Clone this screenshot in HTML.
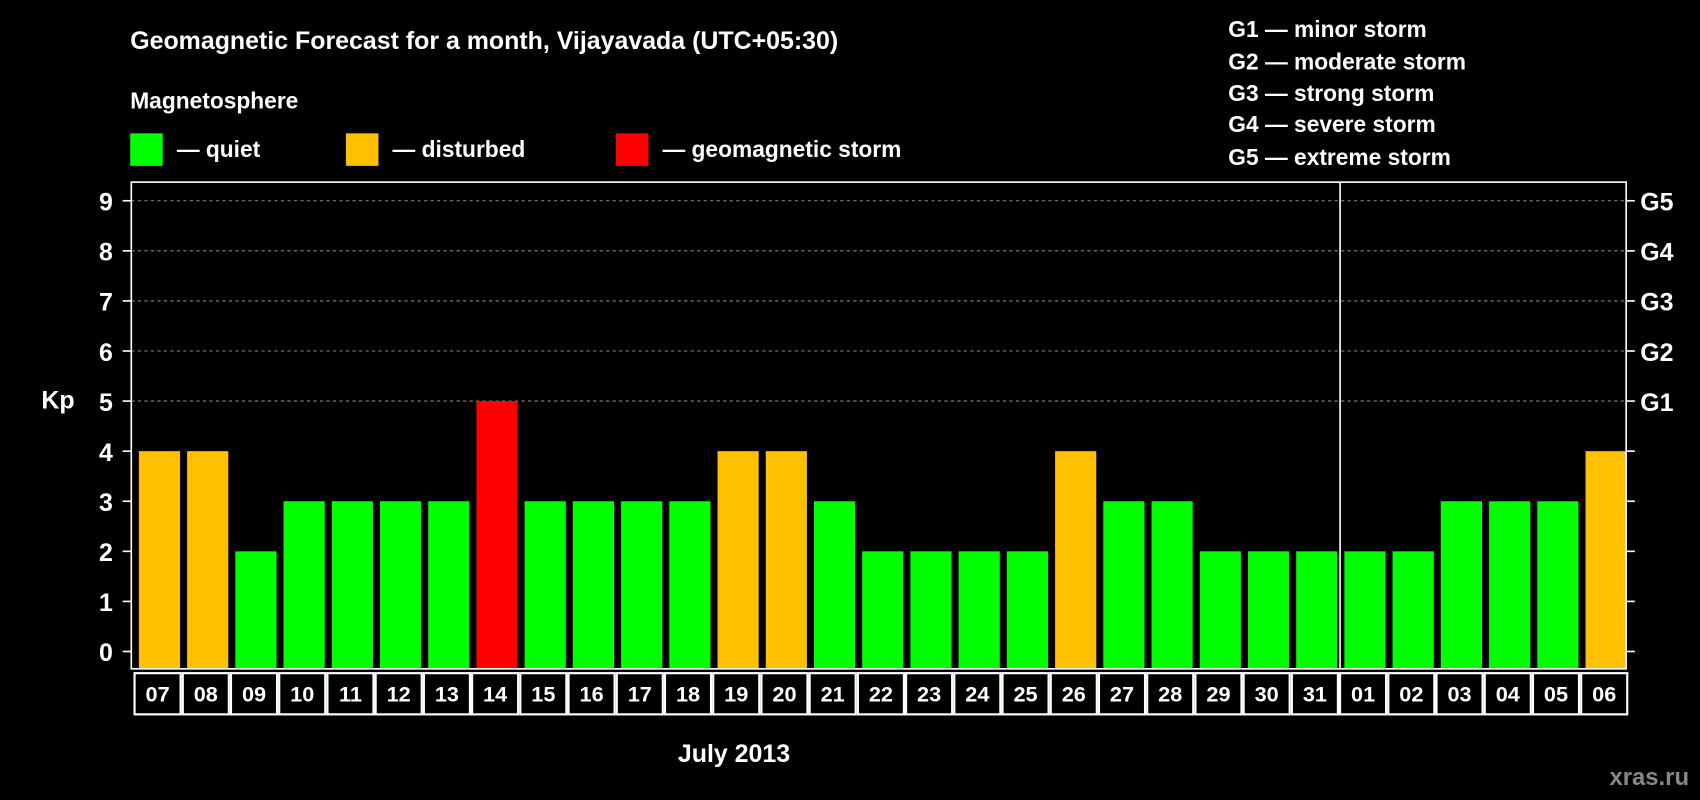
<!DOCTYPE html>
<html><head><meta charset="utf-8"><style>html,body{margin:0;padding:0;background:#000;}svg{display:block;font-family:"Liberation Sans",sans-serif;font-weight:bold;}</style></head>
<body>
<svg id="chart" width="1700" height="800" viewBox="0 0 1568 738" xmlns="http://www.w3.org/2000/svg">
<rect width="1568" height="738" fill="#000"/>
<text x="120" y="45" fill="#fff" font-size="23">Geomagnetic Forecast for a month, Vijayavada (UTC+05:30)</text>
<text x="120" y="100" fill="#fff" font-size="21">Magnetosphere</text>
<rect x="120" y="123" width="30" height="30" fill="#00ff00"/>
<text x="163" y="145" fill="#fff" font-size="21">— quiet</text>
<rect x="319" y="123" width="30" height="30" fill="#ffc000"/>
<text x="362" y="145" fill="#fff" font-size="21">— disturbed</text>
<rect x="568" y="123" width="30" height="30" fill="#ff0000"/>
<text x="611" y="145" fill="#fff" font-size="21">— geomagnetic storm</text>
<g fill="#fff" font-size="21">
<text x="1133" y="34">G1 — minor storm</text>
<text x="1133" y="64">G2 — moderate storm</text>
<text x="1133" y="93">G3 — strong storm</text>
<text x="1133" y="122">G4 — severe storm</text>
<text x="1133" y="152">G5 — extreme storm</text>
</g>
<text x="38" y="377" fill="#fff" font-size="23">Kp</text>
<text x="677" y="703" fill="#fff" font-size="23" text-anchor="middle">July 2013</text>
<text x="1558" y="724" fill="#888" font-size="22" text-anchor="end">xras.ru</text>
<g id="plot"></g>
</svg>
<script>
const days = ["07","08","09","10","11","12","13","14","15","16","17","18","19","20","21","22","23","24","25","26","27","28","29","30","31","01","02","03","04","05","06"];
const kpValues = [4,4,2,3,3,3,3,5,3,3,3,3,4,4,3,2,2,2,2,4,3,3,2,2,2,2,2,3,3,3,4];
const yTicks = [0,1,2,3,4,5,6,7,8,9];
const gLabels = ["G1","G2","G3","G4","G5"];
const gLevels = [5,6,7,8,9];
const monthBreak = 25;

const NS="http://www.w3.org/2000/svg";
const plot=document.getElementById('plot');
const L=121,R=1500,T=168,B=617;
const y=v=>601-v*46.2;
const step=(R-L)/days.length;
const x=i=>L+step*i;
function mk(tag,attrs){const e=document.createElementNS(NS,tag);for(const k in attrs)e.setAttribute(k,attrs[k]);plot.appendChild(e);return e;}
gLevels.forEach((g,i)=>{
 const l=mk('line',{x1:L,x2:R,y1:y(g),y2:y(g),stroke:'#888','stroke-dasharray':'3,3','stroke-width':1});
 
 
 const t=mk('text',{x:1513,y:y(g)+9,fill:'#fff','font-size':23});
 t.textContent=gLabels[i];
 
 
});
kpValues.forEach((v,i)=>{
 const c=v>=5?'#ff0000':(v>=4?'#ffc000':'#00ff00');
 const r=mk('rect',{x:x(i)+7,y:y(v),width:step-6.5,height:y(0)-y(v)+16,fill:c});
 
 
 const cell=mk('rect',{x:x(i)+3,y:621,width:step-2,height:38,fill:'none',stroke:'#fff','stroke-width':2});
 
 
 const t=mk('text',{x:x(i)+step/2+2,y:647,fill:'#fff','font-size':20,'text-anchor':'middle'});
 t.textContent=days[i];
 
 
});
const fr=mk('rect',{x:L,y:T,width:R-L,height:B-T,fill:'none',stroke:'#fff','stroke-width':1.5});


const vb=mk('line',{x1:x(monthBreak)+3,x2:x(monthBreak)+3,y1:T,y2:B,stroke:'#fff','stroke-width':1.5});


yTicks.forEach(v=>{
 const a=mk('line',{x1:L-8,x2:L,y1:y(v),y2:y(v),stroke:'#fff','stroke-width':1.5});
 
 
 const b=mk('line',{x1:R,x2:R+8,y1:y(v),y2:y(v),stroke:'#fff','stroke-width':1.5});
 
 
 const t=mk('text',{x:104,y:y(v)+9,fill:'#fff','font-size':23,'text-anchor':'end'});
 t.textContent=v;
 
 
});
</script>
</body></html>
